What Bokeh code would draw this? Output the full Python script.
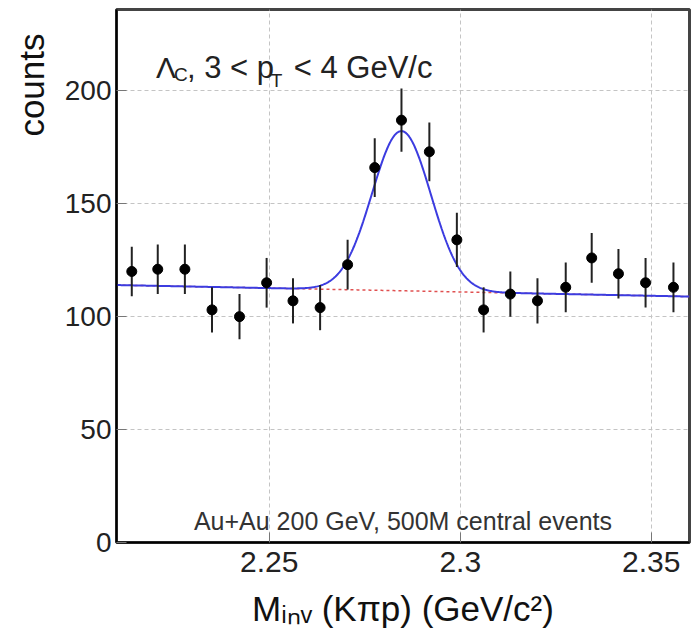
import numpy as np
from bokeh.plotting import figure
from bokeh.models import ColumnDataSource, Range1d, FixedTicker, Label, Title
from bokeh.embed import file_html
from bokeh.resources import INLINE

# ---- data ----
mass = [2.2140, 2.2208, 2.2279, 2.2350, 2.2422, 2.2493, 2.2562, 2.2633, 2.2705,
        2.2776, 2.2846, 2.2919, 2.2991, 2.3061, 2.3131, 2.3202, 2.3276, 2.3344,
        2.3414, 2.3485, 2.3558]
counts = [120, 121, 121, 103, 100, 115, 107, 104, 123, 166, 187, 173, 134,
          103, 110, 107, 113, 126, 119, 115, 113]
errors = [11, 11, 11, 10, 10, 11, 10, 10, 11, 13, 14, 13, 12, 10, 10, 10,
          11, 11, 11, 11, 11]

# fit parameters (gaussian + linear background)
bg_at_low = 114.0
bg_slope = -34.0
peak_amp = 70.7
peak_mean = 2.2846
peak_sigma = 0.0077

x_ticks = [2.25, 2.3, 2.35]
x_tick_labels = ["2.25", "2.3", "2.35"]
y_ticks = [0, 50, 100, 150, 200]
x_lo, x_hi = 2.21, 2.36
y_lo, y_hi = 0, 236

FONT = "Liberation Sans"

p = figure(width=693, height=637, x_range=Range1d(x_lo, x_hi), y_range=Range1d(y_lo, y_hi),
           output_backend="svg", toolbar_location=None,
           min_border_left=116, min_border_right=4, min_border_top=9, min_border_bottom=95)
p.title.visible = False
p.background_fill_color = "white"
p.border_fill_color = "white"
p.outline_line_color = "#444444"
p.outline_line_width = 3

# grid
for g in (p.xgrid, p.ygrid):
    g.grid_line_color = "#c4c4c4"
    g.grid_line_dash = "4 3"
    g.grid_line_width = 1

# axes
p.xaxis.ticker = FixedTicker(ticks=x_ticks)
p.xaxis.major_label_overrides = dict(zip(x_ticks, x_tick_labels))
p.yaxis.ticker = FixedTicker(ticks=y_ticks)
for ax in (p.xaxis, p.yaxis):
    ax.axis_line_color = "black"
    ax.axis_line_width = 2
    ax.major_tick_in = 10
    ax.major_tick_out = 0
    ax.major_tick_line_color = "#777777"
    ax.minor_tick_line_color = None
    ax.major_label_text_font = FONT
    ax.major_label_text_color = "#222222"
p.xaxis.major_label_text_font_size = "30px"
p.xaxis.major_label_standoff = 9
p.yaxis.major_label_text_font_size = "28px"
p.yaxis.major_label_standoff = 5

p.xaxis.axis_label = "Mᵢₙᵥ (Kπp) (GeV/c²)"
p.xaxis.axis_label_text_font = FONT
p.xaxis.axis_label_text_font_style = "normal"
p.xaxis.axis_label_text_font_size = "35px"
p.xaxis.axis_label_text_color = "#111111"
p.xaxis.axis_label_standoff = 14

p.add_layout(Title(text="counts", align="right", offset=24, vertical_align="top",
                   text_font=FONT, text_font_size="35px", text_font_style="normal",
                   text_color="#111111", standoff=18), "left")

# fit curves
xf = np.linspace(x_lo, x_hi, 600)
bg = bg_at_low + bg_slope * (xf - x_lo)
full = bg + peak_amp * np.exp(-(xf - peak_mean) ** 2 / (2 * peak_sigma ** 2))
p.line(xf, bg, line_color="#e05050", line_width=1.5, line_dash="3 3")
p.line(xf, full, line_color="#3c3ce0", line_width=2)

# data
src = ColumnDataSource(dict(x=mass, y=counts,
                            lo=[c - e for c, e in zip(counts, errors)],
                            hi=[c + e for c, e in zip(counts, errors)]))
p.segment(x0="x", y0="lo", x1="x", y1="hi", source=src, line_color="#222222", line_width=2)
p.scatter(x="x", y="y", source=src, size=10, marker="circle", fill_color="black", line_color="black")

# helpers to place annotation text relative to the reference frame
def rx(px):
    return x_lo + (px - 115.5) / 3825.0

def ry(py):
    return (541.5 - py) / 2.255

def lab(text, px, py, size, color="#222222"):
    p.add_layout(Label(x=rx(px), y=ry(py), text=text, text_font=FONT,
                       text_font_size=size, text_color=color,
                       text_align="left", text_baseline="alphabetic"))

# title inside frame
lab("Λ", 155, 67, "30px")
lab("C", 173, 74, "19px")
lab(", 3 < p", 186, 67, "31px")
lab("T", 270, 80, "19px")
lab("< 4 GeV/c", 293, 67, "31px")

# bottom note
lab("Au+Au 200 GeV, 500M central events", 193, 520, "25px", color="#333333")

open("out.html", "w").write(file_html(p, INLINE))
